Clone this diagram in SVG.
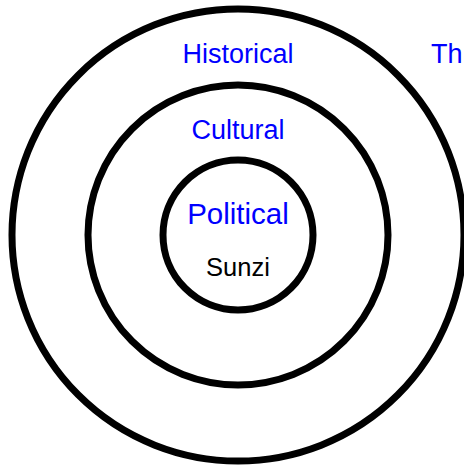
<svg xmlns="http://www.w3.org/2000/svg" width="464" height="466" viewBox="0 0 464 466">
  <style>
    .ring { fill: none; stroke: #000; stroke-width: 7; }
    .lbl { font-family: "Liberation Sans", Arial, sans-serif; text-anchor: middle; fill: #0000ff; }
    .name { font-family: "Liberation Sans", Arial, sans-serif; text-anchor: middle; fill: #000; }
  </style>
  <rect width="464" height="466" fill="#fff"/>
  <g id="historical">
    <circle class="ring" cx="238" cy="235" r="226"/>
    <text class="lbl" x="238" y="63" font-size="27">Historical</text>
  </g>
  <g id="cultural">
    <circle class="ring" cx="238" cy="235" r="150"/>
    <text class="lbl" x="238" y="139" font-size="27">Cultural</text>
  </g>
  <g id="political">
    <circle class="ring" cx="238" cy="235" r="75"/>
    <text class="lbl" x="238" y="224" font-size="29.5">Political</text>
    <text class="name" x="238" y="276" font-size="25.5">Sunzi</text>
  </g>
  <g id="th">
    <text class="lbl" x="431" y="63" font-size="27" style="text-anchor:start">Th</text>
  </g>
  <g id="connectors"/>
</svg>
